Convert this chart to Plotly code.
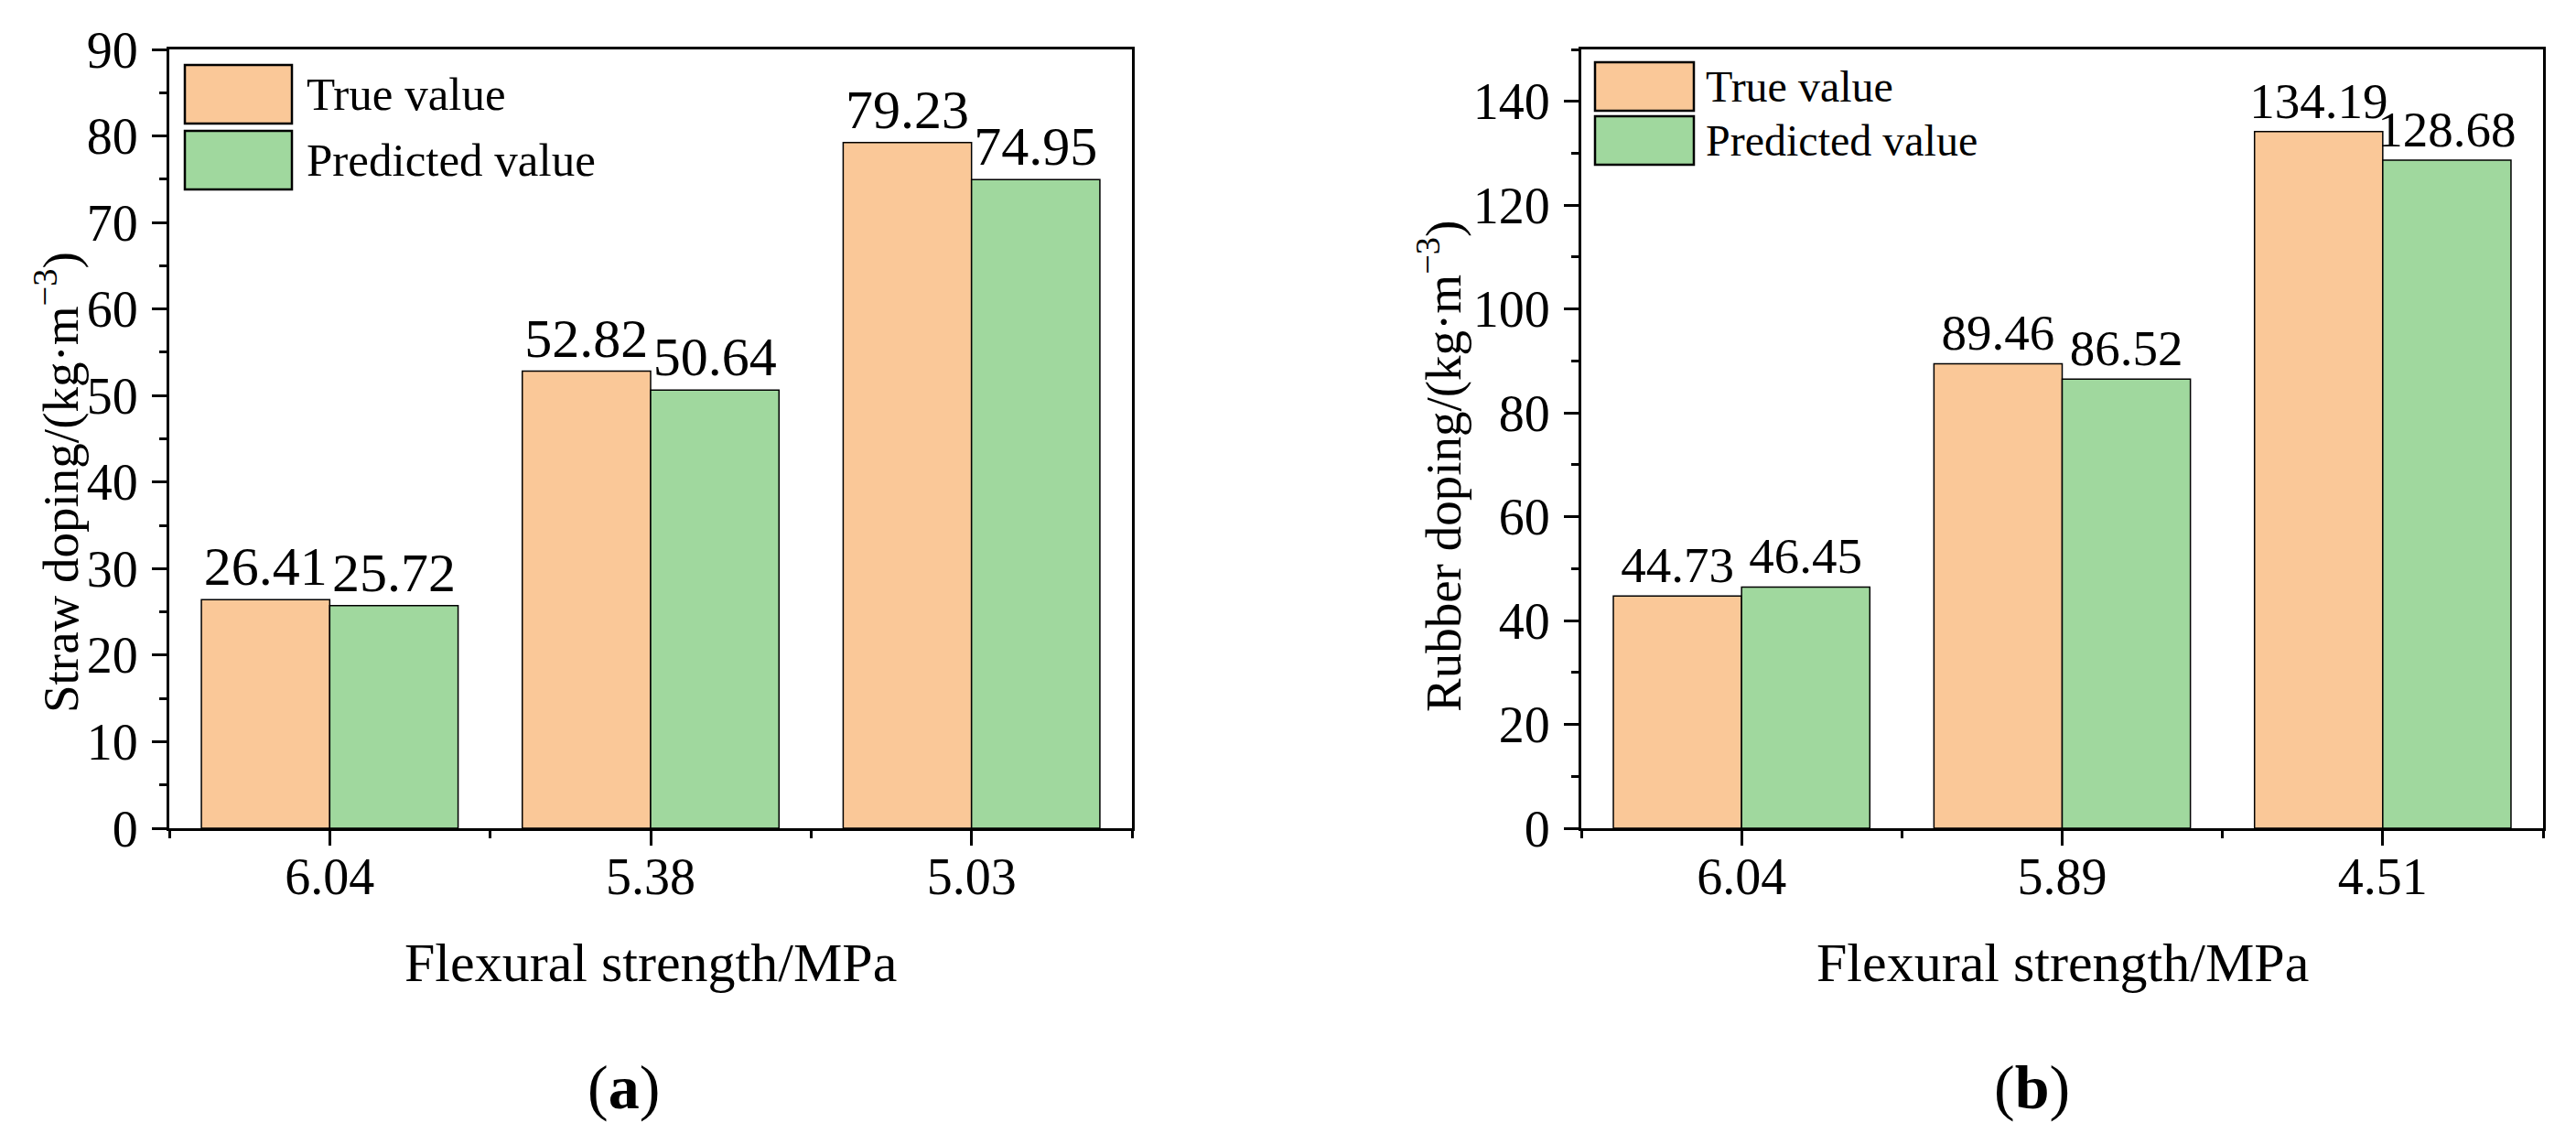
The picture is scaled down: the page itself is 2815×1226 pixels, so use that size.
import plotly.graph_objects as go

# ---------------- data ----------------
cats_a = ["6.04", "5.38", "5.03"]
true_a = [26.41, 52.82, 79.23]
pred_a = [25.72, 50.64, 74.95]

cats_b = ["6.04", "5.89", "4.51"]
true_b = [44.73, 89.46, 134.19]
pred_b = [46.45, 86.52, 128.68]

series_names = ["True value", "Predicted value"]
x_title = "Flexural strength/MPa"
y_title_a = "Straw doping/(kg·m<sup>−3</sup>)"
y_title_b = "Rubber doping/(kg·m<sup>−3</sup>)"
panel_labels = ["(<b>a</b>)", "(<b>b</b>)"]

# ---------------- style ----------------
W, H = 2815, 1226
FONT = "Liberation Serif, Times New Roman, serif"
ORANGE = "#FAC898"
GREEN = "#A0D89E"
COLORS = [ORANGE, GREEN]


def px(xp):
    return xp / W


def py(yp):
    return 1 - yp / H


fig = go.Figure()

panels = [
    dict(cats=cats_a, vals=[true_a, pred_a], xa="x", ya="y", xd=[185, 1237],
         yr=[0, 90], dt=10, mdt=5, lab_size=60, ytitle=y_title_a,
         ytx=62, yty=527, label_x=681,
         leg=dict(x0=202, x1=319, rows=[(71, 135), (143, 207)], tx=333, fs=51)),
    dict(cats=cats_b, vals=[true_b, pred_b], xa="x2", ya="y2", xd=[1728, 2779],
         yr=[0, 150], dt=20, mdt=10, lab_size=55, ytitle=y_title_b,
         ytx=1573, yty=510, label_x=2220,
         leg=dict(x0=1743, x1=1851, rows=[(68, 121), (127, 180)], tx=1862, fs=48)),
]

for i, p in enumerate(panels):
    xs = list(range(len(p["cats"])))
    for s, (name, vals) in enumerate(zip(series_names, p["vals"])):
        fig.add_trace(go.Bar(
            x=xs, y=vals, name=name, xaxis=p["xa"], yaxis=p["ya"],
            marker=dict(color=COLORS[s], line=dict(color="black", width=1.5)),
            text=[f"{v:.2f}" for v in vals], textposition="outside",
            textfont=dict(family=FONT, size=p["lab_size"], color="black"),
            constraintext="none", cliponaxis=False, showlegend=False,
        ))

    axis_common = dict(showline=True, linecolor="black", linewidth=3, mirror=True,
                       showgrid=False, zeroline=False, ticks="outside",
                       tickwidth=3, tickcolor="black", ticklen=16,
                       tickfont=dict(family=FONT, size=56, color="black"),
                       automargin=False)
    xkey = "xaxis" if i == 0 else "xaxis2"
    ykey = "yaxis" if i == 0 else "yaxis2"
    fig.update_layout(**{
        xkey: dict(axis_common, domain=[px(p["xd"][0]), px(p["xd"][1])],
                   range=[-0.5, len(xs) - 0.5], tickmode="array", tickvals=xs,
                   ticktext=p["cats"], anchor=p["ya"], ticklabelstandoff=-14,
                   minor=dict(tickmode="array", tickvals=[k - 0.5 for k in range(len(xs) + 1)],
                              ticks="outside", ticklen=8, tickwidth=3, tickcolor="black")),
        ykey: dict(axis_common, domain=[py(905), py(54)], range=p["yr"],
                   tick0=0, dtick=p["dt"], anchor=p["xa"], ticklabelstandoff=4,
                   minor=dict(dtick=p["mdt"], ticks="outside", ticklen=8, tickwidth=3,
                              tickcolor="black")),
    })

    # axis titles and panel labels
    xc = (p["xd"][0] + p["xd"][1]) / 2
    fig.add_annotation(x=px(xc), y=py(1052), xref="paper", yref="paper",
                       text=x_title, showarrow=False, xanchor="center", yanchor="middle",
                       font=dict(family=FONT, size=60, color="black"))
    fig.add_annotation(x=px(p["ytx"]), y=py(p["yty"]), xref="paper", yref="paper",
                       text=p["ytitle"], showarrow=False, textangle=-90,
                       xanchor="center", yanchor="middle",
                       font=dict(family=FONT, size=55, color="black"))
    fig.add_annotation(x=px(p["label_x"]), y=py(1188), xref="paper", yref="paper",
                       text=panel_labels[i], showarrow=False, xanchor="center", yanchor="middle",
                       font=dict(family=FONT, size=68, color="black"))

    # legend (drawn manually so swatch sizes match)
    lg = p["leg"]
    for s, (y0, y1) in enumerate(lg["rows"]):
        fig.add_shape(type="rect", xref="paper", yref="paper",
                      x0=px(lg["x0"]), x1=px(lg["x1"]), y0=py(y1), y1=py(y0),
                      fillcolor=COLORS[s], line=dict(color="black", width=2.5))
        fig.add_annotation(x=px(lg["tx"]), y=py((y0 + y1) / 2), xref="paper", yref="paper",
                           text=series_names[s], showarrow=False, xanchor="left",
                           yanchor="middle",
                           font=dict(family=FONT, size=lg["fs"], color="black"))

fig.update_layout(
    width=W, height=H, margin=dict(l=0, r=0, t=0, b=0),
    paper_bgcolor="white", plot_bgcolor="white",
    barmode="group", bargap=0.2, bargroupgap=0,
    font=dict(family=FONT, color="black"),
    showlegend=False,
)

fig.write_html("out.html")
